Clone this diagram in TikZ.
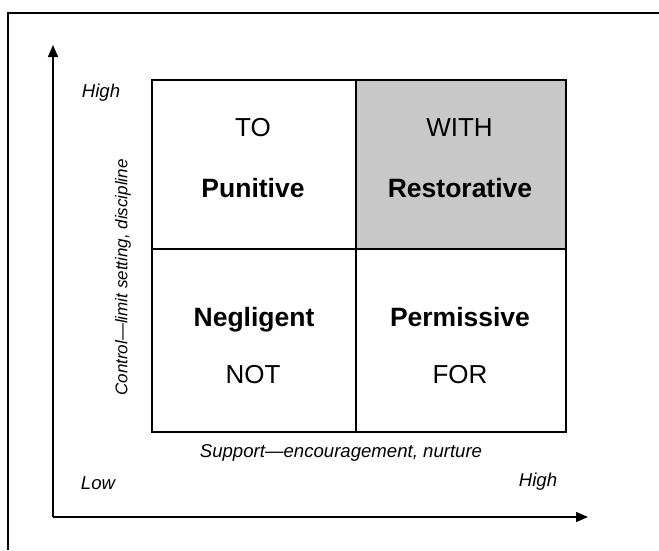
\documentclass[tikz,border=0pt]{standalone}
\usepackage{fontspec}
\setmainfont{Liberation Sans}
\usetikzlibrary{arrows.meta}
\begin{document}
\begin{tikzpicture}[x=1pt,y=-1pt,
  cell/.style={draw=black,line width=2.6pt,inner sep=0pt,anchor=center},
  big/.style={font=\fontsize{26}{30}\selectfont,anchor=base},
  bigb/.style={font=\fontsize{26.5}{30}\selectfont\bfseries,anchor=base},
  axlab/.style={font=\fontsize{18.6}{22}\selectfont\itshape},
  axis/.style={line width=1.4pt,-{Triangle[length=12pt,width=10pt]}}]
\useasboundingbox (0,0) rectangle (659,550);
\fill[white] (0,0) rectangle (659,550);
% outer border (cut at right and bottom)
\draw[line width=2.4pt] (8,550) -- (8,13) -- (659,13);
% cells
\node[cell,minimum width=204pt,minimum height=169pt] (tl) at (254,164.5) {};
\node[cell,minimum width=210pt,minimum height=169pt,fill={rgb,255:red,200;green,200;blue,200}] (tr) at (461,164.5) {};
\node[cell,minimum width=204pt,minimum height=183pt] (bl) at (254,340.5) {};
\node[cell,minimum width=210pt,minimum height=183pt] (br) at (461,340.5) {};
% cell texts
\node[big] (to) at (253,136) {TO};
\node[bigb] (pun) at (253,197) {Punitive};
\node[big] (with) at (459.5,136) {WITH};
\node[bigb] (res) at (460,197) {Restorative};
\node[bigb] (neg) at (254,326) {Negligent};
\node[big] (not) at (253,383) {NOT};
\node[bigb] (per) at (460,326) {Permissive};
\node[big] (for) at (460,383) {FOR};
% axes
\coordinate (origin) at (53,517);
\coordinate (ytip) at (53,45);
\coordinate (xtip) at (588,517);
\draw[axis] (origin) -- (ytip);
\draw[axis] (origin) -- (xtip);
% axis labels
\node[axlab] (hy) at (101,93) {High};
\node[axlab] (lo) at (98,483) {Low};
\node[axlab] (hx) at (538,482) {High};
\node[axlab] (sup) at (341,453) {Support—encouragement, nurture};
\node[axlab,font=\fontsize{17}{20}\selectfont\itshape,rotate=90] (ctl) at (123,277.5) {Control—limit setting, discipline};
\end{tikzpicture}
\end{document}
